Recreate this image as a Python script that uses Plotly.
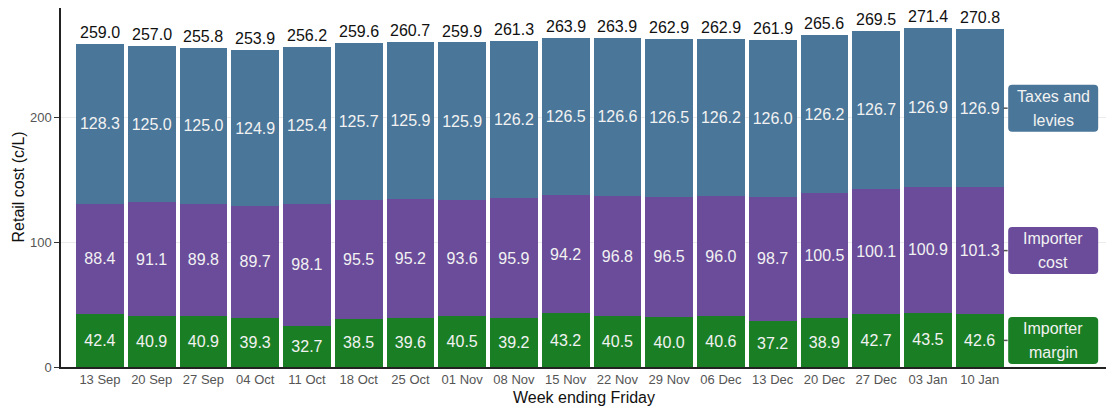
import plotly.graph_objects as go

weeks = ["13 Sep", "20 Sep", "27 Sep", "04 Oct", "11 Oct", "18 Oct", "25 Oct", "01 Nov", "08 Nov",
         "15 Nov", "22 Nov", "29 Nov", "06 Dec", "13 Dec", "20 Dec", "27 Dec", "03 Jan", "10 Jan"]
totals = [259.0, 257.0, 255.8, 253.9, 256.2, 259.6, 260.7, 259.9, 261.3,
          263.9, 263.9, 262.9, 262.9, 261.9, 265.6, 269.5, 271.4, 270.8]
taxes = [128.3, 125.0, 125.0, 124.9, 125.4, 125.7, 125.9, 125.9, 126.2,
         126.5, 126.6, 126.5, 126.2, 126.0, 126.2, 126.7, 126.9, 126.9]
cost = [88.4, 91.1, 89.8, 89.7, 98.1, 95.5, 95.2, 93.6, 95.9,
        94.2, 96.8, 96.5, 96.0, 98.7, 100.5, 100.1, 100.9, 101.3]
margin = [42.4, 40.9, 40.9, 39.3, 32.7, 38.5, 39.6, 40.5, 39.2,
          43.2, 40.5, 40.0, 40.6, 37.2, 38.9, 42.7, 43.5, 42.6]

series = [("Importer margin", margin, "#1A7F24", ["Importer", "margin"]),
          ("Importer cost", cost, "#6A4C9A", ["Importer", "cost"]),
          ("Taxes and levies", taxes, "#4A7699", ["Taxes and", "levies"])]

FONT = "Liberation Sans, Arial, sans-serif"
xs = list(range(len(weeks)))

fig = go.Figure()
for name, vals, col, _ in series:
    fig.add_trace(go.Bar(
        x=xs, y=vals, name=name, marker=dict(color=col, line=dict(width=0)),
        width=0.92, text=[f"{v:.1f}" for v in vals], textposition="inside",
        insidetextanchor="middle", textangle=0,
        textfont=dict(family=FONT, size=16, color="#f2f2f2"),
        constraintext="none", hoverinfo="skip"))

for x, t in zip(xs, totals):
    fig.add_annotation(x=x, y=t, text=f"{t:.1f}", showarrow=False, yanchor="bottom",
                       yshift=2, borderpad=0,
                       font=dict(family=FONT, size=16, color="#111111"))

# rounded rectangle path (pixels, relative to anchor)
W, H, R = 45, 23.5, 4
box_path = (f"M {-W + R},{-H} L {W - R},{-H} Q {W},{-H} {W},{-H + R} "
            f"L {W},{H - R} Q {W},{H} {W - R},{H} L {-W + R},{H} "
            f"Q {-W},{H} {-W},{H - R} L {-W},{-H + R} Q {-W},{-H} {-W + R},{-H} Z")

last = len(weeks) - 1
base = 0
for name, vals, col, lines in series:
    mid = base + vals[last] / 2
    base += vals[last]
    fig.add_shape(type="line", x0=last + 0.46, x1=last + 0.54, y0=mid, y1=mid,
                  line=dict(color="#555555", width=1.5), layer="above")
    fig.add_shape(type="path", xsizemode="pixel", ysizemode="pixel",
                  xanchor=last + 1.42, yanchor=mid, path=box_path,
                  fillcolor=col, line=dict(width=0), layer="above")
    for ln, ys in zip(lines, [12, -12]):
        fig.add_annotation(x=last + 1.42, y=mid, yshift=ys, text=ln, showarrow=False,
                           align="center", yanchor="middle",
                           font=dict(family=FONT, size=16, color="#f2f2f2"))

fig.add_annotation(x=0.5, xref="paper", y=0, yref="paper", yshift=-30, yanchor="middle",
                   text="Week ending Friday", showarrow=False,
                   font=dict(family=FONT, size=16, color="#111111"))
fig.add_annotation(x=0, xref="paper", y=0.5, yref="paper", xshift=-43, xanchor="center",
                   text="Retail cost (c/L)", showarrow=False, textangle=-90,
                   font=dict(family=FONT, size=16, color="#111111"))

fig.update_layout(
    barmode="stack", bargap=0.08, showlegend=False,
    width=1106, height=402, margin=dict(l=53, r=7, t=0, b=43, autoexpand=False),
    plot_bgcolor="white", paper_bgcolor="white",
    font=dict(family=FONT),
    xaxis=dict(range=[-0.753, 19.46], tickvals=xs, ticktext=weeks, showgrid=False,
               showline=True, linecolor="#222222", linewidth=1.5, ticks="",
               tickfont=dict(size=13, color="#555555"), zeroline=False, automargin=False),
    yaxis=dict(range=[0, 287.6], tickvals=[0, 100, 200], showgrid=True, gridcolor="#ebebeb",
               showline=True, linecolor="#222222", linewidth=1.5, ticks="outside",
               ticklen=5, tickcolor="#333333", zeroline=False, automargin=False,
               tickfont=dict(size=13, color="#555555")),
)

fig.write_html("out.html")
